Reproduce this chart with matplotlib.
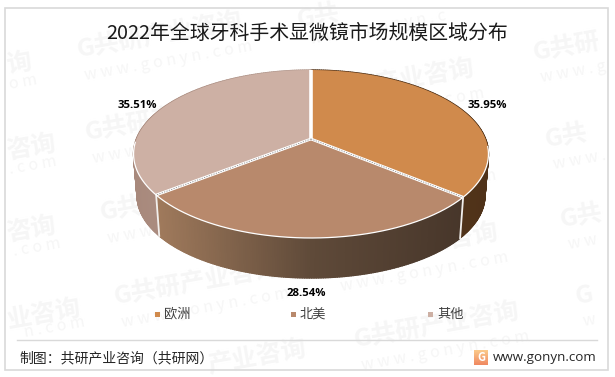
import numpy as np
import matplotlib
matplotlib.use("Agg")
import matplotlib.pyplot as plt
from matplotlib.collections import PolyCollection
from matplotlib.colors import LinearSegmentedColormap
from matplotlib.patches import Polygon, Rectangle

categories = ["欧洲", "北美", "其他"]
values = [35.95, 28.54, 35.51]
value_labels = ["35.95%", "28.54%", "35.51%"]
title = "2022年全球牙科手术显微镜市场规模区域分布"
source = "制图：共研产业咨询（共研网）"
site = "www.gonyn.com"

top_colors = ["#d08a4c", "#b8896c", "#cdb0a4"]
side_ramps = [["#4f3219", "#5a3a1e"], ["#a07a5c", "#5f4a39", "#47362a"], ["#a8897c", "#b8a096"]]
label_xy = [(487, 106), (306, 293), (137, 105)]
legend_x = [157, 293, 430]

CJK = ["Noto Sans CJK SC", "DejaVu Sans"]
plt.rcParams["font.family"] = CJK

fig = plt.figure(figsize=(6.15, 3.77), dpi=100)
ax = fig.add_axes([0, 0, 1, 1])
ax.set_xlim(0, 615)
ax.set_ylim(377, 0)
ax.axis("off")

# watermark tiles, cut to the part visible inside the frame
FULL = "G共研产业咨询"
SUB = "w w w . g o n y n . c o m"
wm_full = [(77, 50), (85, 133), (100, 213), (114, 297),
           (309, 97), (321, 179), (333, 261), (354, 340)]
wm_parts = [
    (7, 66, "询", 9, 85, "o m"),
    (7, 152, "咨询", 9, 170, ". c o m"),
    (7, 234, "咨询", 13, 252, ". c o m"),
    (7, 321, "业咨询", 24, 333, "n . c o m"),
    (297, 20, "G共", 310, 40, "w w w . g o n y n . c"),
    (533, 53, "G共研", 541, 78, "w w w . g"),
    (545, 140, "G共", 553, 165, "w w w ."),
    (560, 220, "G共", 568, 245, "w w"),
    (575, 297, "G", 583, 322, "w"),
    (208, 366, "产业咨询", 0, 0, ""),
]
wm_color = "#f6f6f6"


def watermark(x, y, s, fs, weight):
    ax.text(x, y, s, fontsize=fs, fontweight=weight, color=wm_color, rotation=10,
            rotation_mode="anchor", ha="left", va="center", zorder=1)


for sx, sy in wm_full:
    watermark(sx, sy, FULL, 18, "bold")
    watermark(sx + 8, sy + 26, SUB, 11.5, "normal")
for mx, my, ms, nx, ny, ns in wm_parts:
    watermark(mx, my, ms, 18, "bold")
    if ns:
        watermark(nx, ny, ns, 11.5, "normal")

# frame and footer rule
ax.add_patch(Rectangle((4.5, 7.5), 603.5, 362.5, fill=False, ec="#d9d9d9", lw=1.2, zorder=2))
ax.plot([17, 597], [340, 340], color="#d9d9d9", lw=1, zorder=2)

# projective pie geometry
CX, CY = 311, 139
A, P, C = 81.3, 0.1786, 174.6
SCALE, DROP = 0.98, 42


def rim(deg):
    t = np.radians(np.asarray(deg, dtype=float))
    u, v = np.sin(t), np.cos(t)
    den = 1 + P * v
    return CX + C * u / den, CY - A * v / den


def lower(deg):
    x, y = rim(deg)
    return CX + SCALE * (x - CX), CY + DROP + SCALE * (y - CY)


edges = 360 * np.cumsum([0] + values) / np.sum(values)

# side walls
for i in range(3):
    cmap = LinearSegmentedColormap.from_list("s", side_ramps[i])
    th = np.linspace(edges[i], edges[i + 1], 160)
    x1, y1 = rim(th)
    x2, y2 = lower(th)
    polys, cols = [], []
    lo, hi = x1.min(), x1.max()
    if i == 1:
        lo, hi = 156, 464
    for k in range(len(th) - 1):
        polys.append([(x1[k], y1[k]), (x1[k + 1], y1[k + 1]), (x2[k + 1], y2[k + 1]), (x2[k], y2[k])])
        f = ((x1[k] + x1[k + 1]) / 2 - lo) / (hi - lo)
        cols.append(cmap(np.clip(1 - f if i == 0 else f, 0, 1)))
    ax.add_collection(PolyCollection(polys, facecolors=cols, edgecolors=cols, linewidths=1.0, zorder=3))

for e in edges[1:3]:
    x1, y1 = rim(e)
    x2, y2 = lower(e)
    ax.plot([x1, x2], [y1, y2], color="#f2efec", lw=1.3, zorder=4)

# top faces
for i in range(3):
    th = np.linspace(edges[i], edges[i + 1], 200)
    x, y = rim(th)
    pts = np.column_stack([np.r_[CX, x], np.r_[CY, y]])
    ax.add_patch(Polygon(pts, closed=True, fc=top_colors[i], ec="none", zorder=5))
th = np.linspace(edges[0], edges[3], 500)
x, y = rim(th)
front = (th > 95) & (th < 268)
ax.plot(x[front], y[front], color="white", lw=0.9, zorder=6)
x_top, y_top = rim(0)
ax.plot([CX, x_top], [CY, y_top], color="white", lw=2.6, zorder=7, solid_capstyle="butt")
for e in edges[1:3]:
    xe, ye = rim(e)
    ax.plot([CX, xe], [CY, ye], color="white", lw=2.0, zorder=7, solid_capstyle="butt")
    ax.plot([CX, xe], [CY, ye], color="#8c8c8c", lw=0.6, ls=(0, (1.5, 1.5)), zorder=8)

# data labels
for (lx, ly), s in zip(label_xy, value_labels):
    ax.text(lx, ly, s, fontsize=8.2, fontweight="bold", family="Open Sans", color="black",
            ha="center", va="center", zorder=9)

# legend
for lx, name, c in zip(legend_x, categories, top_colors):
    ax.add_patch(Rectangle((lx - 2.5, 311.5), 5, 5, fc=c, ec="none", zorder=9))
    ax.text(lx + 7, 314, name, fontsize=9.5, color="#404040", ha="left", va="center", zorder=9)

# title and footer
ax.text(307, 33, title, fontsize=14.3, color="#1a1a1a", ha="center", va="center", zorder=9)
ax.text(19, 358, source, fontsize=10, color="#262626", ha="left", va="center", zorder=9)
ax.text(493, 357, site, fontsize=9.6, family="Open Sans", color="#262626", ha="left", va="center", zorder=9)

grad = LinearSegmentedColormap.from_list("logo", ["#fbc98a", "#f08a62"])
ax.imshow(np.linspace(0, 1, 16).reshape(-1, 1), cmap=grad, extent=(474, 488, 365, 350),
          aspect="auto", zorder=9)
ax.text(481, 357.5, "G", fontsize=8, fontweight="bold", color="white", ha="center", va="center", zorder=10)
ax.set_xlim(0, 615)
ax.set_ylim(377, 0)

fig.savefig("out.png", dpi=100)
